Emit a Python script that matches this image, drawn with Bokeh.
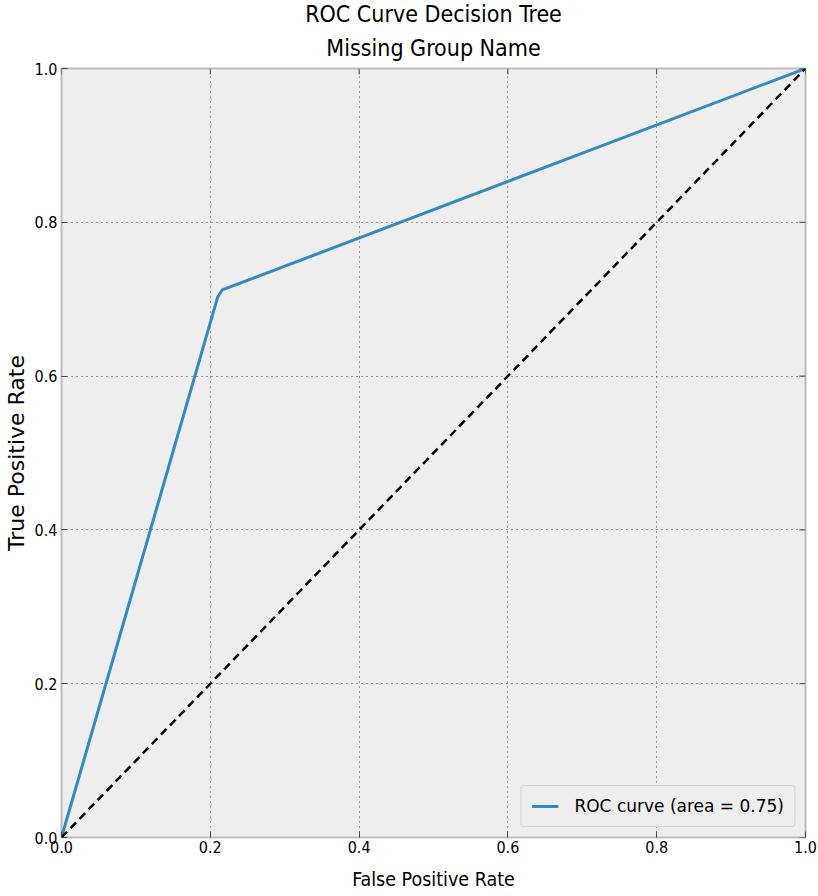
import math
from bokeh.plotting import figure
from bokeh.models import Range1d, FixedTicker, Title, Legend, LegendItem
from bokeh.embed import file_html
from bokeh.resources import INLINE

# ---- data ----
fpr = [0.0, 0.210, 0.216, 1.0]
tpr = [0.0, 0.703, 0.712, 1.0]
chance_x = [0.0, 1.0]
chance_y = [0.0, 1.0]
ticks = [0.0, 0.2, 0.4, 0.6, 0.8, 1.0]
tick_labels = ["0.0", "0.2", "0.4", "0.6", "0.8", "1.0"]
title_main = "ROC Curve Decision Tree"
title_sub = "Missing Group Name"
auc_label = "ROC curve (area = 0.75)"
x_label = "False Positive Rate"
y_label = "True Positive Rate"

NARROW = "DejaVu Sans Condensed"
TICK_COLOR = "#444444"

p = figure(frame_width=744, frame_height=769,
           x_range=Range1d(0, 1), y_range=Range1d(0, 1),
           output_backend="svg", toolbar_location=None,
           min_border_left=20, min_border_right=12, min_border_top=10, min_border_bottom=4)

p.background_fill_color = "#eeeeee"
p.border_fill_color = "white"
p.outline_line_color = "#bcbcbc"
p.outline_line_width = 2

overrides = {t: l for t, l in zip(ticks, tick_labels)}

for ax in (p.xaxis[0], p.yaxis[0]):
    ax.ticker = FixedTicker(ticks=ticks)
    ax.major_label_overrides = overrides
    ax.axis_line_color = None
    ax.major_tick_in = 6
    ax.major_tick_out = 0
    ax.major_tick_line_color = TICK_COLOR
    ax.major_tick_line_width = 1
    ax.minor_tick_line_color = None
    ax.major_label_text_font = NARROW
    ax.major_label_text_font_size = "16px"
    ax.major_label_text_color = "black"
    ax.axis_label_text_color = "black"
    ax.axis_label_text_font_style = "normal"

xa = p.xaxis[0]
ya = p.yaxis[0]
xa.major_label_standoff = 3
ya.major_label_standoff = 4
xa.axis_label = x_label
xa.axis_label_text_font = NARROW
xa.axis_label_text_font_size = "19.5px"
xa.axis_label_standoff = 12
ya.axis_label = y_label
ya.axis_label_text_font = "DejaVu Sans"
ya.axis_label_text_font_size = "22px"
ya.axis_label_standoff = 3

# inward ticks on the top and right frame edges
n = len(ticks)
p.ray(x=ticks, y=[1.0] * n, length=6, length_units="screen", angle=-math.pi / 2,
      line_color=TICK_COLOR, line_width=1)
p.ray(x=[1.0] * n, y=ticks, length=6, length_units="screen", angle=math.pi,
      line_color=TICK_COLOR, line_width=1)

p.grid.ticker = FixedTicker(ticks=ticks)
p.grid.grid_line_color = "#444444"
p.grid.grid_line_dash = "1 4"
p.grid.grid_line_width = 1

# titles (subtitle added first so it sits closest to the plot)
p.add_layout(Title(text=title_sub, text_font=NARROW, text_font_size="23px",
                   text_font_style="normal", text_color="black",
                   align="center", standoff=15), "above")
p.add_layout(Title(text=title_main, text_font=NARROW, text_font_size="23px",
                   text_font_style="normal", text_color="black",
                   align="center", standoff=-3), "above")

roc = p.line(fpr, tpr, line_color="#348ABD", line_width=3, line_join="round")
p.line(chance_x, chance_y, line_color="black", line_width=2.5, line_dash="8 5")

legend = Legend(items=[LegendItem(label=auc_label, renderers=[roc])],
                location="bottom_right")
legend.label_text_font = "DejaVu Sans"
legend.label_text_font_size = "17px"
legend.label_text_color = "black"
legend.glyph_width = 27
legend.glyph_height = 20
legend.label_height = 20
legend.label_standoff = 16
legend.padding = 10
legend.margin = 10
legend.spacing = 0
legend.border_line_color = "#bcbcbc"
legend.border_line_width = 1
legend.border_radius = 4
legend.background_fill_color = "#eeeeee"
legend.background_fill_alpha = 1
p.add_layout(legend)

open("out.html", "w").write(file_html(p, INLINE))
